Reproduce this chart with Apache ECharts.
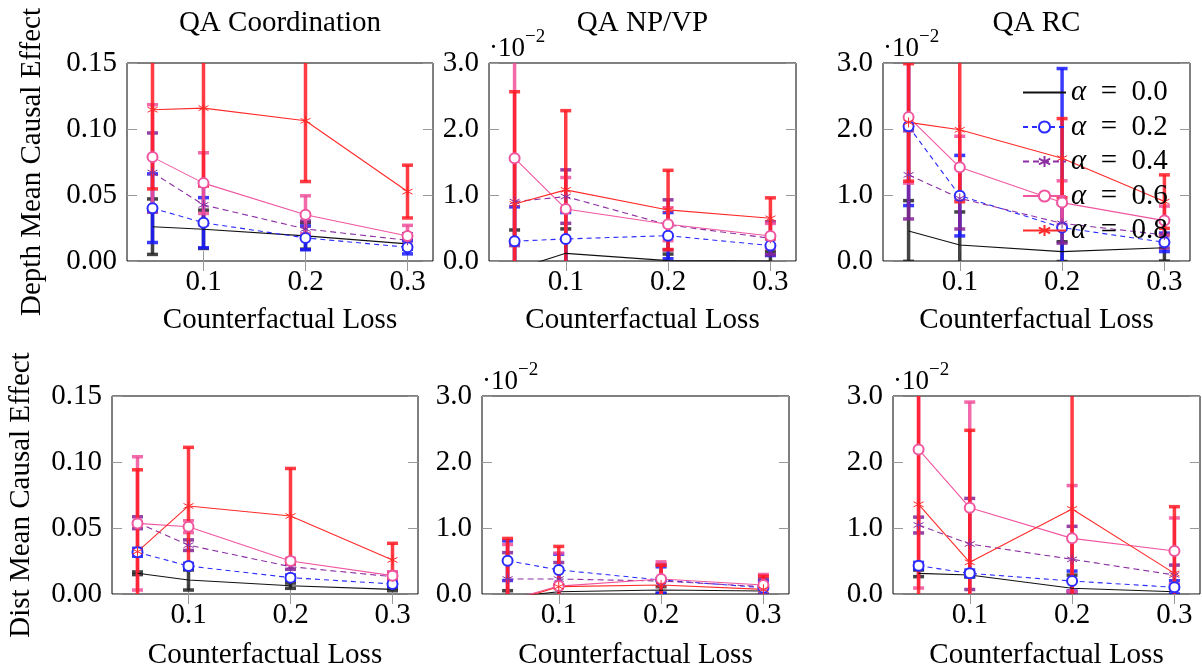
<!DOCTYPE html>
<html><head><meta charset="utf-8">
<script src="https://cdn.jsdelivr.net/npm/echarts@6/dist/echarts.min.js"></script>
<style>html,body{margin:0;padding:0;background:#fff}#c{width:1202px;height:668px}</style>
</head><body><div id="c"></div>
<script>
// ---------- data ----------
const xValues = [0.05, 0.1, 0.2, 0.3];
const xTicks = [0.1, 0.2, 0.3];
const seriesNames = ['α = 0.0', 'α = 0.2', 'α = 0.4', 'α = 0.6', 'α = 0.8'];
const panelTitles = ['QA Coordination', 'QA NP/VP', 'QA RC'];
const rowLabels = ['Depth Mean Causal Effect', 'Dist Mean Causal Effect'];
const xAxisLabel = 'Counterfactual Loss';
const coordTickMax = 0.15, coordTickStep = 0.05;   // 0.00 .. 0.15
const smallTickMax = 3, smallTickStep = 1;         // 0.0 .. 3.0 (×10^-2)

// rows = alpha 0.0, 0.2, 0.4, 0.6, 0.8 ; columns = xValues
const depthCoordMean = [
  [0.026, 0.024, 0.019, 0.013],
  [0.040, 0.029, 0.0175, 0.0104],
  [0.067, 0.0425, 0.0243, 0.0157],
  [0.0787, 0.059, 0.035, 0.019],
  [0.1146, 0.1158, 0.1062, 0.0526]
];
const depthCoordErr = [
  [0.021, 0.0145, 0.010, 0.004],
  [0.026, 0.019, 0.009, 0.005],
  [0.030, 0.015, 0.006, 0.005],
  [0.0397, 0.023, 0.0144, 0.008],
  [0.060, 0.059, 0.046, 0.020]
];
// ×10^-2
const depthNpMean = [
  [-0.13, 0.116, 0.005, 0.0],
  [0.30, 0.334, 0.384, 0.233],
  [0.90, 0.976, 0.547, 0.344],
  [1.558, 0.789, 0.557, 0.379],
  [0.865, 1.078, 0.774, 0.647]
];
const depthNpErr = [
  [0.6, 0.37, 0.1, 0.14],
  [0.52, 0.40, 0.35, 0.15],
  [0.667, 0.405, 0.38, 0.25],
  [1.6, 0.476, 0.25, 0.19],
  [1.70, 1.20, 0.60, 0.31]
];
const depthRcMean = [
  [0.455, 0.243, 0.142, 0.20],
  [2.04, 0.99, 0.506, 0.283],
  [1.305, 0.95, 0.571, 0.395],
  [2.18, 1.42, 0.885, 0.612],
  [2.10, 1.988, 1.558, 0.90]
];
const depthRcErr = [
  [0.46, 0.5, 0.15, 0.2],
  [1.2, 0.61, 2.41, 0.14],
  [0.668, 0.465, 0.3, 0.2],
  [1.0, 0.47, 0.33, 0.22],
  [0.89, 1.09, 0.6, 0.405]
];
const distCoordMean = [
  [0.0157, 0.0106, 0.0063, 0.0035],
  [0.0316, 0.0212, 0.0124, 0.0076],
  [0.054, 0.037, 0.0207, 0.0131],
  [0.0535, 0.051, 0.025, 0.0139],
  [0.0321, 0.0667, 0.0591, 0.0258]
];
const distCoordErr = [
  [0.001, 0.0076, 0.002, 0.001],
  [0.003, 0.002, 0.002, 0.002],
  [0.0045, 0.004, 0.002, 0.003],
  [0.0505, 0.0045, 0.002, 0.003],
  [0.062, 0.0444, 0.036, 0.0126]
];
const distNpMean = [
  [-0.05, 0.035, 0.06, 0.045],
  [0.505, 0.364, 0.212, 0.096],
  [0.227, 0.227, 0.197, 0.111],
  [-0.1, 0.12, 0.227, 0.136],
  [-0.128, 0.111, 0.136, 0.07]
];
const distNpErr = [
  [0.1, 0.1, 0.05, 0.05],
  [0.3, 0.24, 0.2, 0.1],
  [0.40, 0.25, 0.25, 0.12],
  [0.85, 0.5, 0.26, 0.16],
  [0.97, 0.61, 0.3, 0.2]
];
const distRcMean = [
  [0.313, 0.288, 0.086, 0.035],
  [0.429, 0.313, 0.197, 0.101],
  [1.045, 0.758, 0.525, 0.288],
  [2.19, 1.308, 0.843, 0.652],
  [1.359, 0.48, 1.288, 0.313]
];
const distRcErr = [
  [0.05, 0.03, 0.2, 0.05],
  [0.05, 0.05, 0.15, 0.1],
  [0.12, 0.69, 0.5, 0.15],
  [2.1, 1.6, 0.8, 0.5],
  [1.8, 2.0, 1.8, 1.01]
];

// ---------- layout / style ----------
const FONT = 'Liberation Serif';
const FS = 29;
const panels = [
  {mean: depthCoordMean, err: depthCoordErr, small: false, box: {left: 127, top: 63, width: 306, height: 198}},
  {mean: depthNpMean, err: depthNpErr, small: true, box: {left: 489, top: 63, width: 307, height: 198}},
  {mean: depthRcMean, err: depthRcErr, small: true, box: {left: 883, top: 63, width: 307, height: 198}},
  {mean: distCoordMean, err: distCoordErr, small: false, box: {left: 112, top: 396, width: 306, height: 198}},
  {mean: distNpMean, err: distNpErr, small: true, box: {left: 482, top: 396, width: 307, height: 198}},
  {mean: distRcMean, err: distRcErr, small: true, box: {left: 893, top: 396, width: 307, height: 198}}
];
const STAR = 'path://M0,-10L0,10M-8.66,-5L8.66,5M-8.66,5L8.66,-5';
const styles = [
  {color: '#111111', bar: 'rgba(35,35,35,0.85)', type: 'solid', symbol: 'none'},
  {color: '#2b2bff', bar: 'rgba(25,25,255,0.85)', type: [5, 4], symbol: 'emptyCircle'},
  {color: '#8c2fa3', bar: 'rgba(130,35,150,0.85)', type: [6, 4], symbol: STAR},
  {color: '#f0559f', bar: 'rgba(240,80,155,0.85)', type: 'solid', symbol: 'emptyCircle'},
  {color: '#ff2a2a', bar: 'rgba(255,25,35,0.85)', type: 'solid', symbol: STAR}
];

const grids = [], xAxes = [], yAxes = [], series = [];
const tickStyle = {inside: true, length: 10, lineStyle: {color: '#999', width: 1}};
const labelFont = {fontFamily: FONT, fontSize: FS, color: '#000'};

panels.forEach((p, pi) => {
  grids.push(Object.assign({show: true, borderColor: '#000', borderWidth: 1, backgroundColor: 'transparent', outerBoundsMode: 'none', containLabel: false}, p.box));
  const yMax = p.small ? smallTickMax : coordTickMax;
  const yStep = p.small ? smallTickStep : coordTickStep;
  const digits = p.small ? 1 : 2;
  xAxes[pi] = {
    type: 'value', gridIndex: pi, min: 0.025, max: 0.325, position: 'bottom',
    axisLine: {show: false}, splitLine: {show: false},
    axisTick: Object.assign({customValues: xTicks}, tickStyle),
    axisLabel: Object.assign({customValues: xTicks, margin: 7, formatter: v => v.toFixed(1)}, labelFont),
    name: xAxisLabel, nameLocation: 'middle', nameGap: pi < 3 ? 45 : 47,
    nameTextStyle: labelFont
  };
  xAxes[6 + pi] = {
    type: 'value', gridIndex: pi, min: 0.025, max: 0.325, position: 'top',
    axisLine: {show: false}, splitLine: {show: false},
    axisTick: Object.assign({customValues: xTicks}, tickStyle),
    axisLabel: {show: false}
  };
  const yPrim = {
    type: 'value', gridIndex: pi, min: 0, max: yMax, interval: yStep, position: 'left',
    axisLine: {show: false}, splitLine: {show: false},
    axisTick: tickStyle,
    axisLabel: Object.assign({margin: 10, formatter: v => v.toFixed(digits)}, labelFont)
  };
  if (pi % 3 === 0) {
    yPrim.name = rowLabels[pi / 3];
    yPrim.nameLocation = 'middle';
    yPrim.nameGap = pi === 0 ? 80 : 76;
    yPrim.nameTextStyle = labelFont;
  } else {
    yPrim.name = '{a|·10}{b|−2}';
    yPrim.nameLocation = 'end';
    yPrim.nameGap = 1;
    yPrim.nameTextStyle = {
      align: 'left', verticalAlign: 'bottom',
      rich: {
        a: {fontFamily: FONT, fontSize: 27, color: '#000', lineHeight: 34, verticalAlign: 'bottom'},
        b: {fontFamily: FONT, fontSize: 19, color: '#000', lineHeight: 19, verticalAlign: 'top'}
      }
    };
  }
  yAxes[pi] = yPrim;
  yAxes[6 + pi] = {
    type: 'value', gridIndex: pi, min: 0, max: yMax, interval: yStep, position: 'right',
    axisLine: {show: false}, splitLine: {show: false},
    axisTick: tickStyle, axisLabel: {show: false}
  };

  p.mean.forEach((row, si) => {
    const st = styles[si];
    const errRow = p.err[si];
    series.push({
      type: 'custom', name: 'err' + pi + '_' + si,
      xAxisIndex: pi, yAxisIndex: pi, clip: true, silent: true,
      data: xValues.map((x, i) => [x, row[i] - errRow[i], row[i] + errRow[i]]),
      encode: {x: 0, y: [1, 2]},
      renderItem: (params, api) => {
        const x = api.value(0);
        const lo = api.coord([x, api.value(1)]);
        const hi = api.coord([x, api.value(2)]);
        const w = 5.5;
        const s = {stroke: st.bar, lineWidth: 3.5};
        return {
          type: 'group',
          children: [
            {type: 'line', shape: {x1: lo[0], y1: lo[1], x2: hi[0], y2: hi[1]}, style: s},
            {type: 'line', shape: {x1: lo[0] - w, y1: lo[1], x2: lo[0] + w, y2: lo[1]}, style: s},
            {type: 'line', shape: {x1: hi[0] - w, y1: hi[1], x2: hi[0] + w, y2: hi[1]}, style: s}
          ]
        };
      }
    });
    series.push({
      type: 'line', name: seriesNames[si],
      xAxisIndex: pi, yAxisIndex: pi, clip: true,
      data: xValues.map((x, i) => [x, row[i]]),
      symbol: st.symbol, symbolSize: 10,
      showSymbol: st.symbol !== 'none',
      lineStyle: {color: st.color, width: 1.1, type: st.type},
      itemStyle: {color: st.color, borderColor: st.color, borderWidth: 1},
      emphasis: {disabled: true}
    });
  });
});

const hidden = 'rgba(0,0,0,0)';
const legendData = seriesNames.map((n, i) => i === 0
  ? {name: n, itemStyle: {color: hidden, borderColor: hidden, borderWidth: 0}}
  : {name: n});

const option = {
  animation: false,
  backgroundColor: '#fff',
  title: panelTitles.map((t, i) => ({
    text: t, left: panels[i].box.left + panels[i].box.width / 2, top: 9, textAlign: 'center', padding: 0,
    textStyle: {fontFamily: FONT, fontSize: FS, fontWeight: 'normal', color: '#000'}
  })),
  legend: {
    data: legendData, orient: 'vertical', left: 1022, top: 78,
    itemWidth: 43, itemHeight: 14, itemGap: 5.5, selectedMode: false, padding: 0,
    formatter: n => '{i|α}\u2002=\u2002' + n.split('= ')[1],
    textStyle: {fontFamily: FONT, fontSize: FS, color: '#000', lineHeight: 28,
      rich: {i: {fontFamily: FONT, fontSize: FS, fontStyle: 'italic', color: '#000', lineHeight: 28}}}
  },
  grid: grids,
  xAxis: xAxes,
  yAxis: yAxes,
  series: series
};
const chart = echarts.init(document.getElementById('c'), null, {renderer: 'canvas'});
chart.setOption(option);
</script>
</body></html>
